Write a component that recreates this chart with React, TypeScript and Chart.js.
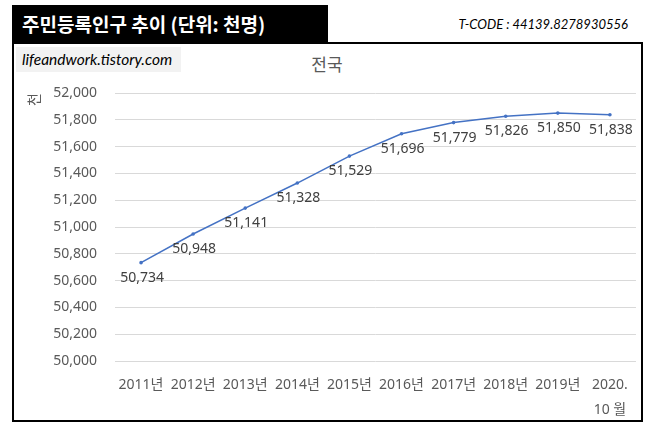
import React, { useEffect, useRef } from 'react';
import { Chart, registerables } from 'chart.js';

Chart.register(...registerables);

const years = ['2011년', '2012년', '2013년', '2014년', '2015년', '2016년', '2017년', '2018년', '2019년', ['2020.', '10 월']];
const population = [50734, 50948, 51141, 51328, 51529, 51696, 51779, 51826, 51850, 51838];
const yMin = 50000;
const yMax = 52000;
const yStep = 200;

const fmt = (v: number) => v.toLocaleString('en-US');

// draws the value under each point, like the Excel data labels
const pointLabels = {
  id: 'pointLabels',
  afterDatasetsDraw(chart: Chart) {
    const { ctx } = chart;
    const meta = chart.getDatasetMeta(0);
    ctx.save();
    ctx.font = '14px "Noto Sans", sans-serif';
    ctx.fillStyle = '#404040';
    ctx.textAlign = 'center';
    ctx.textBaseline = 'middle';
    meta.data.forEach((pt, i) => {
      ctx.fillText(fmt(population[i]), pt.x + 1, pt.y + 15);
    });
    ctx.restore();
  },
};

const PopulationChart: React.FC = () => {
  const canvasRef = useRef<HTMLCanvasElement>(null);
  const chartRef = useRef<Chart | null>(null);

  useEffect(() => {
    if (!canvasRef.current) return;
    const ctx = canvasRef.current.getContext('2d');
    if (!ctx) return;
    if (chartRef.current) chartRef.current.destroy();

    chartRef.current = new Chart(ctx, {
      type: 'line',
      data: {
        labels: years,
        datasets: [
          {
            data: population,
            borderColor: '#4472C4',
            backgroundColor: '#4472C4',
            borderWidth: 1.5,
            pointRadius: 1.8,
            pointBorderWidth: 0,
            tension: 0,
          },
        ],
      },
      options: {
        responsive: true,
        maintainAspectRatio: false,
        animation: false,
        layout: { padding: { left: 6, right: 3, top: 48, bottom: 0 } },
        plugins: { legend: { display: false }, tooltip: { enabled: false } },
        scales: {
          x: {
            offset: true,
            grid: { display: false, drawTicks: false },
            border: { display: false },
            ticks: {
              color: '#595959',
              padding: 12,
              maxRotation: 0,
              autoSkip: false,
              font: { family: '"Noto Sans", "Noto Sans CJK KR", sans-serif', size: 14, lineHeight: 1.75 },
            },
            afterFit: (s: any) => { s.height = 59; },
          },
          y: {
            min: yMin,
            max: yMax,
            grid: { color: '#d9d9d9', lineWidth: 1, drawTicks: false },
            border: { display: false },
            ticks: {
              stepSize: yStep,
              color: '#595959',
              padding: 18,
              font: { family: '"Noto Sans", sans-serif', size: 14 },
              callback: (v: any) => fmt(Number(v)),
            },
            title: {
              display: true,
              text: '천',
              align: 'end',
              color: '#595959',
              padding: { top: 5, bottom: 0 },
              font: { family: '"Noto Sans CJK KR", sans-serif', size: 14 },
            },
            afterFit: (s: any) => { s.width = 95; },
          },
        },
      },
      plugins: [pointLabels],
    });

    return () => chartRef.current?.destroy();
  }, []);

  return <canvas ref={canvasRef}></canvas>;
};

export default function App() {
  return (
    <div style={{ position: 'absolute', left: 0, top: 0, width: 653, height: 431, background: '#fff', fontFamily: '"Noto Sans CJK KR", sans-serif' }}>
      <div style={{ position: 'absolute', left: 12, top: 42, width: 631, height: 380, border: '2px solid #000', boxSizing: 'border-box' }} />
      <div style={{ position: 'absolute', left: 12, top: 5, width: 316, height: 38, background: '#000', color: '#fff', fontWeight: 700, fontSize: 19, lineHeight: '38px', paddingLeft: 10, boxSizing: 'border-box', whiteSpace: 'nowrap' }}>
        주민등록인구 추이 (단위: 천명)
      </div>
      <div style={{ position: 'absolute', right: 25, top: 15, fontSize: 13, fontStyle: 'italic', fontWeight: 400, fontFamily: 'Lato, sans-serif', color: '#000', lineHeight: '18px' }}>
        T-CODE : 44139.8278930556
      </div>
      <div style={{ position: 'absolute', left: 16, top: 47, width: 165, height: 25, background: '#f2f2f2', fontFamily: 'Lato, sans-serif', fontStyle: 'italic', fontSize: 15.5, lineHeight: '25px', paddingLeft: 6, boxSizing: 'border-box', color: '#000', whiteSpace: 'nowrap' }}>
        lifeandwork.tistory.com
      </div>
      <div style={{ position: 'absolute', left: 277, width: 100, top: 52, textAlign: 'center', fontSize: 17, lineHeight: '24px', color: '#595959' }}>
        전국
      </div>
      <div style={{ position: 'absolute', left: 14, top: 45, width: 626, height: 375 }}>
        <PopulationChart />
      </div>
    </div>
  );
}
